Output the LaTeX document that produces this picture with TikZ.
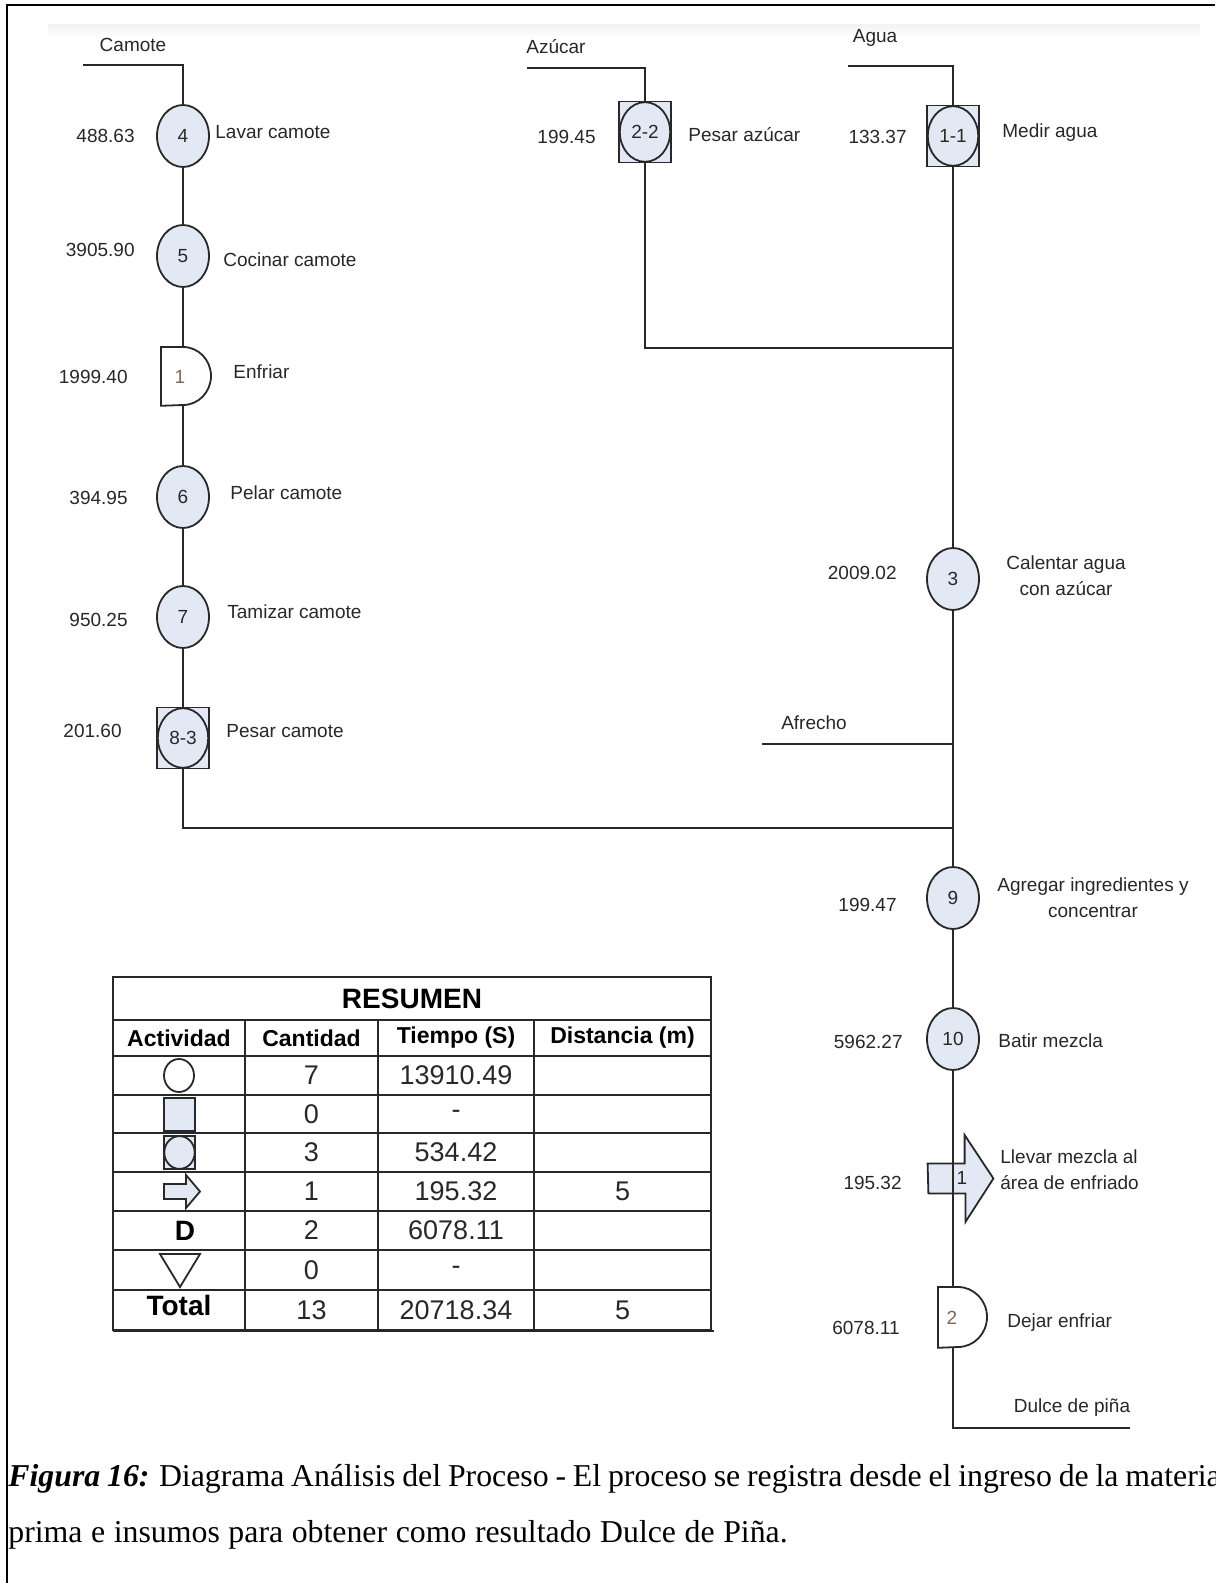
\documentclass[tikz,border=0pt]{standalone}
\usepackage{fontspec}
\setmainfont{Liberation Serif}
\setsansfont{Liberation Sans}
\usetikzlibrary{shapes.geometric}
\definecolor{procfill}{RGB}{226,233,245}
\definecolor{ink}{RGB}{40,40,40}
\definecolor{dnum}{RGB}{125,105,85}
\tikzset{
  txt/.style={font=\sffamily\fontsize{9.5}{13}\selectfont, text=ink, inner sep=0pt},
  op/.style={ellipse, draw=ink, line width=0.9pt, fill=procfill, minimum width=26pt, minimum height=31pt, inner sep=0pt, txt},
  combo/.style={rectangle, draw=ink, line width=0.9pt, fill=procfill, minimum width=26pt, minimum height=30.5pt, inner sep=0pt, txt,
    path picture={\draw[ink, line width=0.9pt] (path picture bounding box.center) ellipse (12.6pt and 14.9pt);}},
  slot/.style={rectangle, draw=none, inner sep=0pt},
  flow/.style={draw=ink, line width=1pt},
  shapeln/.style={draw=ink, line width=0.9pt},
  tabln/.style={draw=ink, line width=0.8pt},
  cell/.style={font=\sffamily\fontsize{13.5}{15}\selectfont, text=ink, inner sep=0pt},
  headcell/.style={font=\sffamily\bfseries\fontsize{11.5}{13}\selectfont, text=black, inner sep=0pt},
  bighead/.style={font=\sffamily\bfseries\fontsize{14}{16}\selectfont, text=black, inner sep=0pt},
  captxt/.style={font=\fontsize{15.9}{19}\selectfont, text=black, inner sep=0pt, anchor=base west},
}
\begin{document}
\begin{tikzpicture}[x=0.5pt,y=-0.5pt]
\clip (0,0) rectangle (1215,1583);
\fill[white] (0,0) rectangle (1215,1583);
\shade[top color=gray!9, bottom color=white] (48,25) rectangle (1200,37);
\draw[black, line width=0.75pt] (7,1583) -- (7,5) -- (1215,5);

% ---------- left column: Camote ----------
\node[txt] (lcam) at (133,45) {Camote};
\coordinate (cin) at (83,65);
\node[op] (n4) at (183,136) {4};
\node[txt, anchor=east] (t4) at (135,136) {488.63};
\node[txt, anchor=west] (l4) at (215,132) {Lavar camote};
\node[op] (n5) at (183,256) {5};
\node[txt, anchor=east] (t5) at (135,250) {3905.90};
\node[txt, anchor=west] (l5) at (223,260) {Cocinar camote};
\node[slot, minimum width=25pt, minimum height=29pt, anchor=north west] (d1) at (161,347) {};
\draw[shapeln, fill=white] (d1.north west) -- ++(11pt,0) arc[start angle=90, end angle=-90, x radius=14pt, y radius=14.5pt] -- (d1.south west) -- cycle;
\node[txt, text=dnum] (d1n) at (180,377) {1};
\node[txt, anchor=east] (td1) at (128,377) {1999.40};
\node[txt, anchor=west] (ld1) at (233,372) {Enfriar};
\node[op] (n6) at (183,497) {6};
\node[txt, anchor=east] (t6) at (128,498) {394.95};
\node[txt, anchor=west] (l6) at (230,493) {Pelar camote};
\node[op] (n7) at (183,617) {7};
\node[txt, anchor=east] (t7) at (128,620) {950.25};
\node[txt, anchor=west] (l7) at (227,612) {Tamizar camote};
\node[combo] (n8) at (183,738) {8-3};
\node[txt, anchor=east] (t8) at (122,731) {201.60};
\node[txt, anchor=west] (l8) at (226,731) {Pesar camote};

% ---------- middle: Azucar ----------
\node[txt] (lazu) at (556,47) {Azúcar};
\coordinate (ain) at (527,68);
\node[combo] (n22) at (645,132) {2-2};
\node[txt, anchor=east] (t22) at (596,137) {199.45};
\node[txt, anchor=west] (l22) at (688,135) {Pesar azúcar};

% ---------- right spine ----------
\node[txt] (lagua) at (875,38) {Agua};
\coordinate (win) at (848,66);
\node[combo] (n11) at (953,136) {1-1};
\node[txt, anchor=east] (t11) at (907,137) {133.37};
\node[txt, anchor=west] (l11) at (1002,133) {Medir agua};
\coordinate (j0) at (953,348);
\node[op] (n3) at (953,579) {3};
\node[txt, anchor=east] (t3) at (897,573) {2009.02};
\node[txt, align=center] (l3) at (1066,576) {Calentar agua\\con azúcar};
\node[txt] (lafr) at (814,723) {Afrecho};
\coordinate (afin) at (762,744);
\coordinate (j1) at (953,744);
\coordinate (j2) at (953,828);
\node[op] (n9) at (953,898) {9};
\node[txt, anchor=east] (t9) at (897,905) {199.47};
\node[txt, align=center] (l9) at (1093,898) {Agregar ingredientes y\\concentrar};
\node[op] (n10) at (953,1039) {10};
\node[txt, anchor=east] (t10) at (903,1042) {5962.27};
\node[txt, anchor=west] (l10) at (998,1041) {Batir mezcla};
\node[slot, minimum width=32.5pt, minimum height=43.5pt] (arr) at (960.5,1178.5) {};
\draw[shapeln, fill=procfill] (arr.west) ++(0,-15) -- ++(37,0) -- ++(0,-28.5) -- (arr.east) -- ++(-28,43.5) -- ++(0,-28.5) -- ++(-37,0) -- cycle;
\node[txt] (arrn) at (962,1178) {1};
\node[txt, anchor=east] (tarr) at (902,1183) {195.32};
\node[txt, align=left, anchor=west] (larr) at (1000,1170) {Llevar mezcla al\\área de enfriado};
\node[slot, minimum width=25pt, minimum height=30pt, anchor=north west] (d2) at (938,1287) {};
\draw[shapeln, fill=white] (d2.north west) -- ++(10pt,0) arc[start angle=90, end angle=-90, x radius=14.5pt, y radius=15pt] -- (d2.south west) -- cycle;
\node[txt, text=dnum] (d2n) at (952,1318) {2};
\node[txt, anchor=east] (td2) at (900,1328) {6078.11};
\node[txt, anchor=west] (ld2) at (1007,1323) {Dejar enfriar};
\coordinate (fin) at (1130,1428);
\node[txt] (lfin) at (1072,1408) {Dulce de piña};

% ---------- connectors ----------
\draw[flow] (cin) -| (n4);
\draw[flow] (n4) -- (n5);
\draw[flow] (n5) -- (n5 |- d1.north);
\draw[flow] (n5 |- d1.south) -- (n6);
\draw[flow] (n6) -- (n7);
\draw[flow] (n7) -- (n8);
\draw[flow] (n8) |- (j2);
\draw[flow] (ain) -| (n22);
\draw[flow] (n22) |- (j0);
\draw[flow] (win) -| (n11);
\draw[flow] (n11) -- (n3);
\draw[flow] (afin) -- (j1);
\draw[flow] (n3) -- (n9);
\draw[flow] (n9) -- (n10);
\draw[flow] (n10) -- (n10 |- d2.north);
\draw[flow] (n10 |- d2.south) |- (fin);

% ---------- summary table ----------
\draw[tabln] (113,977) rectangle (711,1330);
\foreach \yy in {1020,1056,1095,1133,1172,1211,1250,1290}
  \draw[tabln] (113,\yy) -- (711,\yy);
\foreach \xx in {245,378,534}
  \draw[tabln] (\xx,1020) -- (\xx,1330);
\draw[ink, line width=1pt] (113,1331) -- (714,1331);
\node[bighead] (tres) at (412,998.5) {RESUMEN};
\node[headcell] (hact) at (179,1038) {Actividad};
\node[headcell] (hcan) at (311.5,1038) {Cantidad};
\node[headcell] (htie) at (456,1038) {Tiempo (S)};
\node[headcell] (hdis) at (622.5,1038) {Distancia (m)};
\foreach \yy/\cc/\tt [count=\i] in {1075.5/7/13910.49, 1114/0/-, 1152.5/3/534.42, 1191.5/1/195.32, 1230.5/2/6078.11, 1270/0/-, 1310/13/20718.34}{
  \node[cell] (qc\i) at (311.5,\yy) {\cc};
  \node[cell] (qt\i) at (456,\yy) {\tt};
}
\node[cell] (qd4) at (622.5,1191.5) {5};
\node[cell] (qd7) at (622.5,1310) {5};
\node[bighead] (qtot) at (179,1305) {Total};
% symbols
\draw[shapeln, fill=white] (179,1075.5) ellipse (7.5pt and 8.25pt);
\draw[shapeln, fill=procfill] (164,1098) rectangle (195,1131);
\draw[shapeln, fill=procfill] (164,1136) rectangle (195,1169);
\draw[shapeln] (179.5,1152.5) ellipse (7.6pt and 8.2pt);
\draw[ink, line width=1.3pt] (164,1169) -- (195,1169);
\draw[shapeln, fill=procfill] (164,1184) -- (186,1184) -- (186,1175) -- (200,1191.5) -- (186,1208) -- (186,1199) -- (164,1199) -- cycle;
\node[bighead] (qdd) at (185,1230.5) {D};
\draw[shapeln, fill=white] (160,1254) -- (200,1254) -- (180,1287) -- cycle;

% ---------- caption ----------
\node[captxt] (cap1) at (8,1486) {\spaceskip=0.215em\relax\textbf{\textit{Figura 16:}} Diagrama Análisis del Proceso - El proceso se registra desde el ingreso de la materia};
\node[captxt] (cap2) at (8,1542) {\spaceskip=0.27em\relax prima e insumos para obtener como resultado Dulce de Piña.};
\end{tikzpicture}
\end{document}
